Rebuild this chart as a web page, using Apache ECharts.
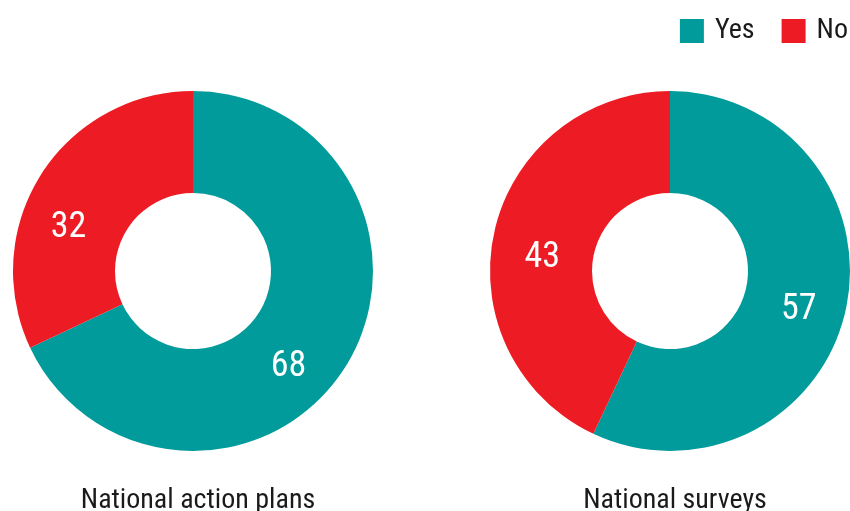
<!DOCTYPE html>
<html><head><meta charset="utf-8">
<script src="https://cdn.jsdelivr.net/npm/echarts@6/dist/echarts.min.js"></script>
<style>html,body{margin:0;padding:0;background:#fff}#c{width:850px;height:511px}</style>
</head><body><div id="c"></div>
<script>
const categories = ['Yes', 'No'];
const chartTitles = ['National action plans', 'National surveys'];
const actionPlans = [68, 32];
const surveys = [57, 43];
const colors = ['#009B9A', '#ED1C24'];
// label shifts from default inside position (layout only)
const labelShift = [[[-16, 25], [-13, 28]], [[0, 10], [1, 16]]];
const FONT = '"Roboto Condensed","Liberation Sans Narrow","DejaVu Sans Condensed","Arial Narrow",Roboto,sans-serif';

const chart = echarts.init(document.getElementById('c'), null, {renderer: 'canvas'});
const centers = [[193, 271], [670, 271]];
const seriesVals = [actionPlans, surveys];
const option = {
  animation: false,
  textStyle: {fontFamily: FONT},
  legend: {
    data: categories, right: 2, top: 17, padding: 0, itemWidth: 24, itemHeight: 24, itemGap: 27,
    icon: 'rect',
    textStyle: {fontFamily: FONT, fontSize: 28, color: '#1a1a1a', padding: [0, 0, 0, 6]}
  },
  title: chartTitles.map((t, i) => ({
    text: t, left: centers[i][0], top: 482, textAlign: 'center',
    textStyle: {fontFamily: FONT, fontSize: 28, fontWeight: 'normal', color: '#1a1a1a'}
  })),
  series: seriesVals.map((vals, i) => ({
    type: 'pie', center: centers[i], radius: [78, 180], startAngle: 90, clockwise: true,
    silent: true,
    label: {show: true, position: 'inside', formatter: '{c}', fontFamily: FONT, fontSize: 36, color: '#fff'},
    labelLine: {show: false},
    labelLayout: function (p) { const s = labelShift[i][p.dataIndex]; return {dx: s[0], dy: s[1]}; },
    itemStyle: {borderWidth: 0},
    data: vals.map((v, j) => ({name: categories[j], value: v, itemStyle: {color: colors[j]}}))
  }))
};
chart.setOption(option);
</script></body></html>
